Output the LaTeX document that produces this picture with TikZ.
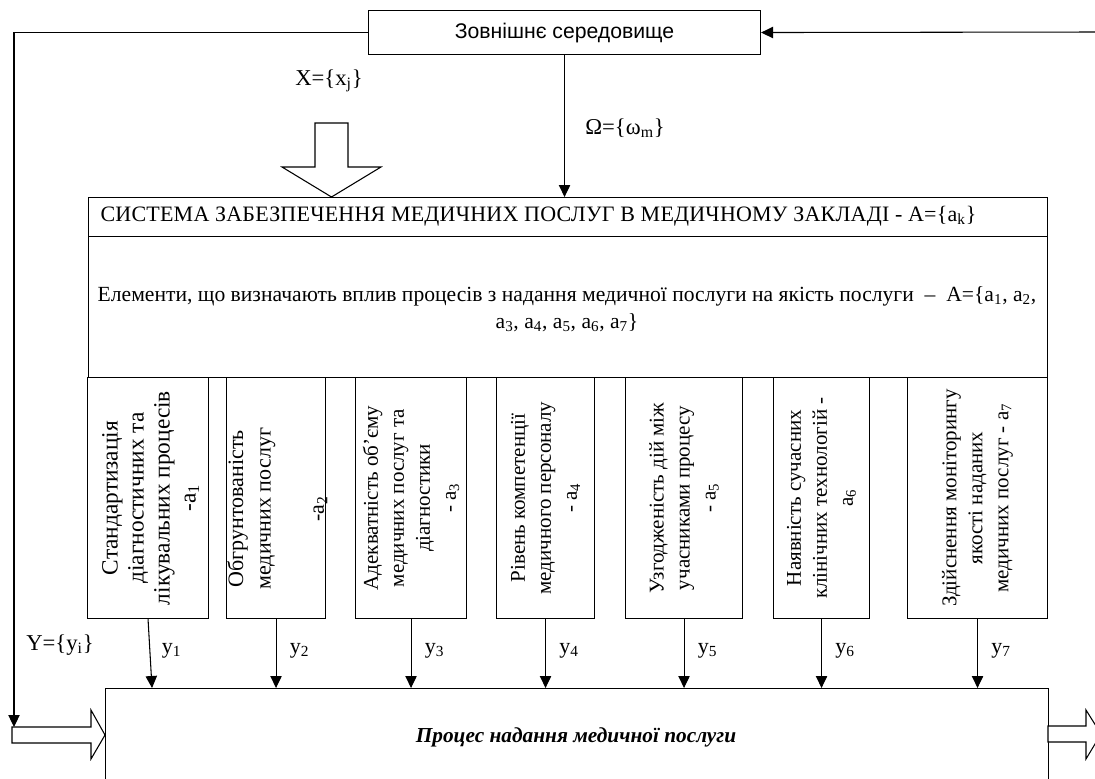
\documentclass[tikz,border=0pt]{standalone}
\usepackage{fontspec}
\setmainfont{Liberation Serif}
\newfontfamily\arialf{Liberation Sans}
\newfontfamily\titlefont[LetterSpace=1]{Liberation Serif}
\usetikzlibrary{arrows.meta,calc}
\begin{document}
\begin{tikzpicture}[x=0.75pt,y=-0.75pt,
  line width=0.8pt,
  box/.style={draw, inner sep=0pt, anchor=north west},
  arr/.style={-{Triangle[length=9pt,width=8.5pt]}},
  lbl/.style={font=\fontsize{16.5}{18}\selectfont, inner sep=0pt},
  vtext/.style={rotate=90, align=center, font=\fontsize{15.75}{19.5}\selectfont, inner sep=0pt},
  hollow/.style={draw, fill=white, line width=0.8pt}
]
\useasboundingbox (0,0) rectangle (1095,778);
\clip (0,0) rectangle (1095,778);

% boxes
\node[box, minimum width=392*0.75pt, minimum height=44*0.75pt] (env) at (368,10) {};
\node[font=\arialf\fontsize{15.9}{18}\selectfont, inner sep=0pt] (envt) at (env.center) {Зовнішнє середовище};

\node[box, minimum width=959*0.75pt, minimum height=39*0.75pt] (title) at (88,197) {};
\node[box, minimum width=959*0.75pt, minimum height=141*0.75pt] (elem) at (88,236) {};
\node[lbl, anchor=base west, font=\titlefont\fontsize{16.5}{18}\selectfont] (titlet) at (100,221)
  {СИСТЕМА ЗАБЕЗПЕЧЕННЯ МЕДИЧНИХ ПОСЛУГ В МЕДИЧНОМУ ЗАКЛАДІ - A=\{a\textsubscript{k}\}};
\node[lbl, align=center, font=\fontsize{16.2}{20.5}\selectfont] (elemt) at (567,309)
  {Елементи, що визначають вплив процесів з надання медичної послуги на якість послуги \ – \ A=\{a\textsubscript{1}, a\textsubscript{2},\\
   a\textsubscript{3}, a\textsubscript{4}, a\textsubscript{5}, a\textsubscript{6}, a\textsubscript{7}\}};

% element boxes
\node[box, minimum width=121*0.75pt, minimum height=241*0.75pt] (b1) at (87,377) {};
\node[box, minimum width=99*0.75pt, minimum height=241*0.75pt] (b2) at (226,377) {};
\node[box, minimum width=111*0.75pt, minimum height=241*0.75pt] (b3) at (355,377) {};
\node[box, minimum width=98*0.75pt, minimum height=241*0.75pt] (b4) at (496,377) {};
\node[box, minimum width=117*0.75pt, minimum height=241*0.75pt] (b5) at (625,377) {};
\node[box, minimum width=96*0.75pt, minimum height=241*0.75pt] (b6) at (773,377) {};
\node[box, minimum width=140*0.75pt, minimum height=241*0.75pt] (b7) at (907,377) {};

\node[vtext, font=\fontsize{17.5}{19.5}\selectfont] (t1) at ([xshift=2pt]b1.center) {Стандартизація\\ діагностичних та\\ лікувальних процесів\\ -a\textsubscript{1}};
\node[vtext, font=\fontsize{16.5}{20.5}\selectfont] (t2) at ([xshift=1pt,yshift=-8pt]b2.center) {Обгрунтованість\\ медичних послуг\\[19.5pt] -a\textsubscript{2}};
\node[vtext] (t3) at (b3.center) {Адекватність об’єму\\ медичних послуг та\\ діагностики\\ - a\textsubscript{3}};
\node[vtext] (t4) at (b4.center) {Рівень компетенції\\ медичного персоналу\\ - a\textsubscript{4}};
\node[vtext] (t5) at (b5.center) {Узгодженість дій між\\ учасниками процесу\\ - a\textsubscript{5}};
\node[vtext] (t6) at (b6.center) {Наявність сучасних\\ клінічних технологій -\\ a\textsubscript{6}};
\node[vtext] (t7) at (b7.center) {Здійснення моніторингу\\ якості наданих\\ медичних послуг - a\textsubscript{7}};

% process box
\node[box, minimum width=943*0.75pt, minimum height=98*0.75pt] (proc) at (105,688) {};
\node[lbl, font=\fontsize{16}{18}\selectfont\bfseries\itshape] (proct) at (576,737) {Процес надання медичної послуги};

% hollow arrows
\draw[hollow] (315,123) -- (348,123) -- (348,167) -- (381,167) -- (331.5,197) -- (282,167) -- (315,167) -- cycle;
\draw[hollow] (12,727) -- (91,727) -- (91,710) -- (105,735) -- (91,759) -- (91,743) -- (12,743) -- cycle;
\draw[hollow] (1048,726) -- (1086,726) -- (1086,710) -- (1101,734) -- (1086,759) -- (1086,742) -- (1048,742) -- cycle;

% feedback lines
\coordinate (lc) at (14,727);
\coordinate (rc) at (1100,32);
\draw[arr] (env.west) -| (lc);
\draw[arr] (rc) -- (env.east);
\draw[arr] (env.south) -- (env.south |- title.north);

% y arrows
\draw[arr] (b1.south) -- ([xshift=3pt]b1.south |- proc.north);
\foreach \i in {2,...,7} { \draw[arr] (b\i.south) -- (b\i.south |- proc.north); }

% labels
\node[lbl, font=\fontsize{17}{18}\selectfont] (xl) at (329,81) {X=\{x\textsubscript{j}\}};
\node[lbl, font=\fontsize{17}{18}\selectfont] (ol) at (625,128) {Ω=\{ω\textsubscript{m}\}};
\node[lbl, font=\fontsize{17}{18}\selectfont] (yl) at (60,645) {Y=\{y\textsubscript{i}\}};
\foreach \i in {1,...,7} {
  \node[lbl, anchor=west] (yl\i) at ([xshift=10pt,yshift=-4pt]b\i.south |- 0,645) {y\textsubscript{\i}};
}
\end{tikzpicture}
\end{document}
